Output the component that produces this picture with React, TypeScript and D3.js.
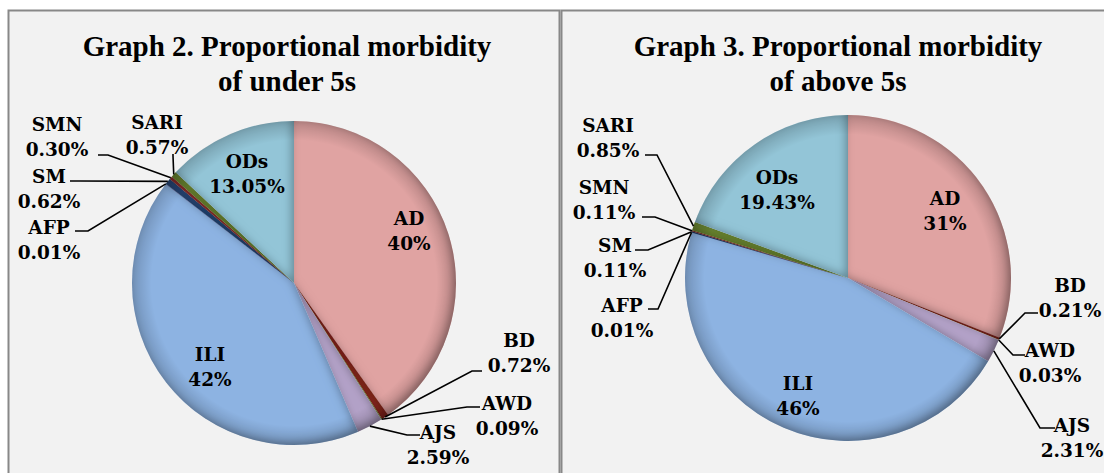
import React from "react";
import * as d3 from "d3";

const W = 1104;
const H = 473;

// Slice order, clockwise from 12 o'clock
const categories = ["AD", "BD", "AWD", "AJS", "ILI", "AFP", "SM", "SMN", "SARI", "ODs"];
const under5Values = [40.2, 0.72, 0.09, 2.59, 42, 0.01, 0.62, 0.3, 0.57, 13.05];
const under5Labels = ["40%", "0.72%", "0.09%", "2.59%", "42%", "0.01%", "0.62%", "0.30%", "0.57%", "13.05%"];
const above5Values = [31, 0.21, 0.03, 2.31, 46, 0.01, 0.11, 0.11, 0.85, 19.43];
const above5Labels = ["31%", "0.21%", "0.03%", "2.31%", "46%", "0.01%", "0.11%", "0.11%", "0.85%", "19.43%"];

const COLORS: Record<string, string> = {
  AD: "#e0a3a2",
  BD: "#8c2b24",
  AWD: "#7f9a48",
  AJS: "#b3a2c8",
  ILI: "#8db3e2",
  AFP: "#5a3f7e",
  SM: "#2b4b7b",
  SMN: "#9a3934",
  SARI: "#6f8b36",
  ODs: "#93c5d7",
};

// label layout: x, y of first line center, leader start + elbow (outside labels only)
type Lay = { x: number; y: number; lead?: [number, number, number, number] };

const under5Layout: Record<string, Lay> = {
  AD: { x: 409, y: 218 },
  ODs: { x: 247, y: 161 },
  ILI: { x: 210, y: 354 },
  SMN: { x: 57, y: 124, lead: [98, 155, 108, 155] },
  SARI: { x: 157, y: 122, lead: [173, 154, 173, 156] },
  SM: { x: 49, y: 176, lead: [70, 181, 80, 181] },
  AFP: { x: 49, y: 227, lead: [75, 231, 88, 231] },
  BD: { x: 519, y: 340, lead: [482, 371, 472, 371] },
  AWD: { x: 507, y: 403, lead: [480, 407, 467, 407] },
  AJS: { x: 438, y: 432, lead: [420, 435, 407, 435] },
};

const above5Layout: Record<string, Lay> = {
  AD: { x: 945, y: 198 },
  ODs: { x: 777, y: 177 },
  ILI: { x: 798, y: 383 },
  SARI: { x: 608, y: 125, lead: [645, 155, 657, 155] },
  SMN: { x: 604, y: 187, lead: [642, 217, 655, 217] },
  SM: { x: 615, y: 245, lead: [635, 250, 648, 250] },
  AFP: { x: 622, y: 305, lead: [648, 309, 658, 309] },
  BD: { x: 1070, y: 285, lead: [1038, 313, 1025, 313] },
  AWD: { x: 1050, y: 350, lead: [1025, 355, 1013, 355] },
  AJS: { x: 1072, y: 425, lead: [1055, 428, 1040, 428] },
};

const TITLE_FONT = "'Liberation Serif', 'DejaVu Serif', serif";
const LABEL_FONT = "'DejaVu Serif', 'Liberation Serif', serif";

const Pie = ({ id, cx, cy, r, values, labels, layout, title }: any) => {
  const data = categories.map((c, i) => ({ cat: c, value: values[i], label: labels[i] }));
  const pie = d3.pie<any>().sort(null).value((d) => d.value);
  const arcs = pie(data);
  const arc = d3.arc<any>().innerRadius(0).outerRadius(r);

  return (
    <g>
      <text x={title.x} y={56} textAnchor="middle" fontFamily={TITLE_FONT} fontWeight="bold" fontSize={29}>
        {title.l1}
      </text>
      <text x={title.x} y={91} textAnchor="middle" fontFamily={TITLE_FONT} fontWeight="bold" fontSize={29}>
        {title.l2}
      </text>
      <g transform={`translate(${cx},${cy})`}>
        {arcs.map((a) => (
          <path key={a.data.cat} d={arc(a) || ""} fill={COLORS[a.data.cat]} filter={`url(#inner-${id})`} />
        ))}
        <circle r={r} fill={`url(#rim-${id})`} />
      </g>
      {arcs.map((a) => {
        const lay: Lay = layout[a.data.cat];
        const mid = (a.startAngle + a.endAngle) / 2;
        const ax = cx + Math.sin(mid) * r;
        const ay = cy - Math.cos(mid) * r;
        return (
          <g key={a.data.cat}>
            {lay.lead && (
              <polyline
                points={`${lay.lead[0]},${lay.lead[1]} ${lay.lead[2]},${lay.lead[3]} ${ax},${ay}`}
                fill="none"
                stroke="#000"
                strokeWidth={1.6}
              />
            )}
            <text textAnchor="middle" fontFamily={LABEL_FONT} fontWeight="bold" fontSize={18.5}>
              <tspan x={lay.x} y={lay.y + 7}>{a.data.cat}</tspan>
              <tspan x={lay.x} y={lay.y + 32}>{a.data.label}</tspan>
            </text>
          </g>
        );
      })}
    </g>
  );
};

export default function App() {
  return (
    <svg width={W} height={H} style={{ position: "absolute", left: 0, top: 0 }}>
      <defs>
        {["a", "b"].map((id) => (
          <React.Fragment key={id}>
            <filter id={`inner-${id}`} x="-10%" y="-10%" width="120%" height="120%">
              <feComponentTransfer in="SourceAlpha" result="inv">
                <feFuncA type="table" tableValues="1 0" />
              </feComponentTransfer>
              <feGaussianBlur in="inv" stdDeviation="4" result="blur" />
              <feOffset in="blur" dx="-3" dy="-3" result="off" />
              <feFlood floodColor="#000" floodOpacity="0.55" />
              <feComposite operator="in" in2="off" result="sh" />
              <feComposite operator="in" in="sh" in2="SourceAlpha" result="inner" />
              <feMerge>
                <feMergeNode in="SourceGraphic" />
                <feMergeNode in="inner" />
              </feMerge>
            </filter>
            <radialGradient id={`rim-${id}`}>
              <stop offset="88%" stopColor="#000" stopOpacity="0" />
              <stop offset="100%" stopColor="#000" stopOpacity="0.18" />
            </radialGradient>
          </React.Fragment>
        ))}
      </defs>
      <rect width={W} height={H} fill="#fff" />
      <rect x={8.5} y={10.5} width={551} height={480} fill="#f2f2f2" stroke="#888" strokeWidth={2} />
      <rect x={561.5} y={10.5} width={560} height={480} fill="#f2f2f2" stroke="#888" strokeWidth={2} />
      <Pie
        id="a"
        cx={294}
        cy={283}
        r={162}
        values={under5Values}
        labels={under5Labels}
        layout={under5Layout}
        title={{ x: 287, l1: "Graph 2. Proportional morbidity", l2: "of under 5s" }}
      />
      <Pie
        id="b"
        cx={848}
        cy={278}
        r={163}
        values={above5Values}
        labels={above5Labels}
        layout={above5Layout}
        title={{ x: 838, l1: "Graph 3. Proportional morbidity", l2: "of above 5s" }}
      />
    </svg>
  );
}
